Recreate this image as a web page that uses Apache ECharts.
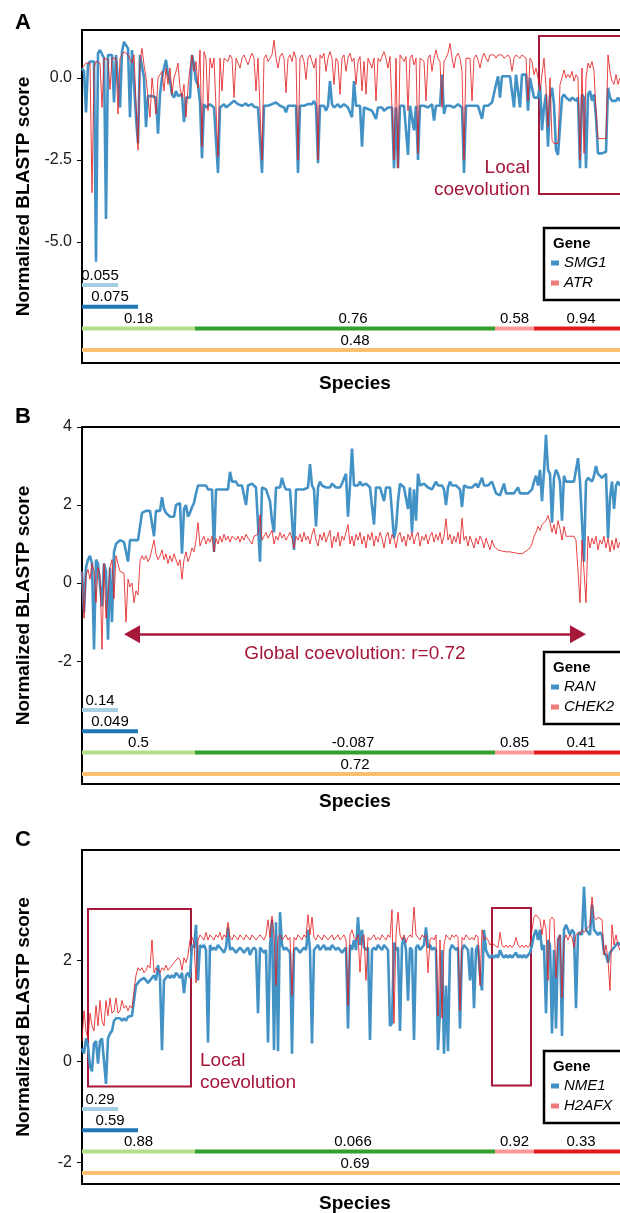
<!DOCTYPE html>
<html>
<head>
<meta charset="utf-8">
<title>Local and global coevolution of BLASTP scores</title>
<script src="https://cdn.jsdelivr.net/npm/echarts@6.0.0/dist/echarts.min.js"></script>
<style>
html,body{margin:0;padding:0;background:#fff;}
#chart{width:620px;height:1213px;}
</style>
</head>
<body>
<div id="chart"></div>
<script>
// ---------------- data ----------------
const STEP = 2;            // species index spacing between plotted points
const SPECIES_MAX = 546;   // last species index on the x axis

// Panel A
const smg1 = [
 0.3, 0.2, -1.05, 0.4, 0.5, 0.55, 0.5, -5.6, 0.75, 0.85,
 0.8, 0.6, -4.3, 0.7, 0.75, 0.7, -0.75, 0.7, 0.75, -0.9,
 0.8, 1.1, 1.05, 0.9, -1.2, 0.85, 0.8, -1.2, -2.0, 0.7,
 0.75, 0.0, -1.5, -0.55, -0.6, -0.55, -0.6, -0.6, -1.7, -0.5,
 0.0, 0.3, 0.55, 0.1, -0.1, -0.5, -0.6, -0.4, -0.55, -0.6,
 -0.5, -1.35, -0.6, -0.55, -0.6, 0.7, 0.4, -0.1, -0.2, -0.75,
 -2.45, -0.8, -0.9, -0.85, -0.8, -0.85, -0.9, -0.85, -2.9, -0.9,
 -0.85, -0.8, -0.9, -0.85, -0.8, -0.75, -0.7, -0.72, -0.8, -0.75,
 -0.85, -0.8, -0.78, -0.85, -0.82, -0.8, -0.88, -0.85, -0.9, -0.85,
 -2.9, -0.85, -0.8, -0.85, -0.9, -0.8, -0.85, -0.75, -0.8, -0.85,
 -0.82, -0.9, -1.05, -0.85, -0.9, -0.85, -0.9, -0.85, -2.9, -0.85,
 -0.8, -0.85, -0.9, -0.8, -0.85, -0.8, -0.7, -0.85, -2.6, -0.85,
 -0.9, -0.85, -1.0, -0.85, -0.1, -0.8, -0.9, -0.85, -0.8, -0.9,
 -0.85, -0.8, -0.85, -0.9, -0.85, -1.2, -0.1, -0.85, -0.9, -0.85,
 -2.1, -0.9, -0.85, -0.95, -0.9, -1.0, -0.95, -1.25, -0.9, -0.95,
 -0.9, -1.0, -0.95, -0.9, -0.95, -0.9, -2.75, -0.9, -2.75, -0.85,
 -0.8, -0.85, -0.8, -2.35, -0.85, -0.8, -1.6, -0.85, -2.5, -0.85,
 -0.8, -0.85, -0.8, -0.9, -0.85, -0.8, -1.3, -0.85, -0.8, -0.85,
 0.1, -1.1, -0.85, -0.8, -0.85, -0.8, -0.9, -0.85, -0.8, -0.85,
 -0.9, -2.9, -0.85, -0.8, -0.85, -0.9, -0.85, -0.8, -0.85, -0.9,
 -1.25, -0.85, -0.8, -0.85, -0.8, -0.75, -0.75, -0.2, 0.05, -0.6,
 0.05, 0.1, 0.05, 0.1, 0.05, 0.0, -0.9, 0.1, 0.05, -0.9,
 0.1, 0.05, 0.1, -1.0, 0.0, -0.3, -0.6, -0.55, -0.6, -0.2,
 -1.6, -0.9, -0.5, -2.1, -0.6, -0.3, -0.8, -2.2, -2.35, -2.3,
 -0.6, -0.5, -0.6, -0.55, -0.7, -0.6, -0.55, -0.7, -0.6, -2.75,
 -0.5, -0.6, -2.75, -0.5, -0.4, -0.7, -0.5, -1.2, -2.3, -2.35,
 -2.3, -2.35, -2.25, -0.3, -0.6, -0.7, -0.65, -0.7, -0.6, -0.7,
 -0.65
];
const atr = [
 0.3, 0.35, 0.45, 0.5, 0.45, -3.5, 0.3, 0.5, 0.55, 0.45,
 -0.9, 0.6, 0.65, 0.55, -0.35, 0.6, 0.65, 0.6, -1.1, 0.6,
 0.65, 0.8, 0.75, 0.7, 0.72, 0.45, 0.7, 0.65, -2.2, 0.5,
 0.9, 0.4, 0.0, 0.0, -1.2, 0.0, 0.05, -1.1, 0.0, -0.05,
 0.2, -0.4, 0.3, -0.2, 0.3, -0.5, 0.0, 0.2, 0.45, -0.3,
 -0.6, -0.2, -1.2, -0.3, 0.3, 0.7, 0.2, 0.5, -0.3, 0.85,
 -2.1, 0.8, 0.6, -1.0, 0.6, 0.3, 0.6, 0.65, -2.4, 0.6,
 -0.4, 0.6, 0.65, 0.5, 0.7, 0.6, -0.6, 0.6, 0.65, 0.3,
 0.6, 0.7, 0.65, 0.4, 0.6, 0.75, 0.6, -0.4, 0.6, 0.55,
 -2.5, 0.6, 0.7, 0.5, 0.6, 0.7, 1.15, 0.6, 0.3, 0.65,
 0.75, 0.6, -0.45, 0.6, 0.7, 0.5, 0.8, 0.6, -2.5, 0.6,
 0.7, 0.5, -0.05, 0.6, 0.7, 0.65, 0.3, 0.6, -2.5, 0.7,
 0.6, 0.75, 0.2, 0.6, 0.8, 0.6, -0.2, 0.6, 0.5, -0.5,
 0.6, 0.7, 0.2, 0.6, 0.75, 0.5, 0.6, -0.2, 0.5, 0.65,
 -0.4, 0.5, -0.5, 0.6, 0.65, 0.3, 0.6, -0.7, 0.6, 0.5,
 0.65, 0.8, 0.6, 0.3, 0.65, 0.7, -2.5, 0.6, -2.75, 0.7,
 0.6, 0.5, 0.65, -1.0, 0.6, 0.7, 0.4, 0.6, -2.3, 0.6,
 0.65, 0.5, -0.7, 0.6, 0.7, 0.2, 0.6, 0.85, 0.6, 0.5,
 -0.9, 0.5, 0.6, 0.75, 1.05, 0.6, 0.3, 0.65, 0.75, 0.6,
 0.2, -2.5, 0.6, 0.65, 0.6, -0.7, 0.6, 0.7, 0.55, 0.3,
 0.6, 0.75, 0.6, 0.5, 0.7, 0.65, 0.7, 0.6, 0.7, 0.65,
 0.7, 0.6, 0.65, 0.7, 0.6, 0.2, 0.6, 0.7, 0.65, 0.6,
 0.7, 0.65, 0.6, -0.7, 0.6, 0.5, 0.1, 0.3, 0.0, -0.4,
 0.1, 0.6, -0.3, -1.5, 0.0, -1.9, -2.0, -1.95, -2.0, -0.2,
 0.0, 0.24, 0.0, 0.1, 0.0, 0.2, -0.1, 0.1, 0.0, -2.5,
 0.3, -2.3, 0.0, 0.45, 0.3, 0.5, 0.2, -1.0, -1.85, -1.9,
 -1.85, -1.9, -1.85, 0.7, 0.2, -0.1, -0.2, 0.1, -0.2, 0.0,
 0.0
];

// Panel B
const ran = [
 0.3, -0.75, 0.4, 0.6, 0.7, 0.5, -1.7, 0.6, 0.5, 0.45,
 -0.6, 0.5, 0.3, -1.45, 0.4, -1.0, 0.8, 1.0, 1.05, 1.1,
 1.1, 1.05, 1.1, 0.55, 1.1, 1.05, 1.1, 1.15, 1.1, 1.15,
 1.8, 1.85, 1.85, 1.9, 1.85, 1.9, 1.2, 1.85, 1.9, 1.85,
 2.2, 1.9, 1.8, 1.75, 1.7, 1.65, 1.7, 2.0, 1.95, 2.05,
 0.75, 1.9, 2.0, 1.7, 1.8, 1.95, 2.05, 2.3, 2.5, 2.45,
 2.5, 2.45, 2.5, 2.4, 2.45, 2.4, 0.8, 2.4, 2.45, 2.4,
 2.45, 2.4, 2.45, 2.4, 2.85, 2.6, 2.55, 2.6, 2.5, 2.55,
 2.5, 2.45, 2.0, 2.5, 2.45, 2.55, 2.6, 2.45, 2.4, 0.55,
 2.45, 2.5, 2.4, 2.45, 2.1, 1.6, 1.3, 2.45, 2.5, 2.45,
 2.7, 2.5, 2.4, 2.45, 2.4, 2.45, 0.85, 2.4, 2.45, 2.4,
 2.35, 2.4, 2.35, 2.45, 3.05, 2.5, 2.4, 1.45, 2.45, 2.6,
 2.5, 2.55, 2.45, 2.5, 2.45, 2.55, 2.5, 2.45, 2.5, 2.45,
 2.55, 2.5, 2.8, 1.7, 2.5, 3.45, 2.5, 2.45, 2.5, 2.6,
 2.5, 2.45, 2.55, 2.5, 2.45, 2.5, 1.5, 2.45, 2.5, 2.45,
 2.5, 2.1, 2.45, 2.5, 2.45, 2.4, 1.15, 1.4, 2.1, 2.55,
 2.6, 2.45, 2.4, 1.9, 2.45, 1.3, 2.4, 1.6, 2.8, 2.5,
 2.45, 2.55, 2.5, 2.45, 2.5, 2.4, 2.45, 2.6, 2.5, 2.45,
 2.5, 2.4, 2.0, 2.45, 2.6, 2.5, 2.45, 2.5, 2.45, 2.4,
 1.95, 2.5, 2.55, 2.45, 2.5, 2.45, 2.5, 2.55, 2.45, 2.5,
 2.7, 2.5, 2.45, 2.5, 2.55, 2.6, 2.45, 2.3, 2.3, 2.25,
 2.3, 2.55, 2.3, 2.25, 2.3, 2.25, 2.3, 2.25, 2.45, 2.3,
 2.25, 2.3, 2.25, 2.3, 2.35, 2.4, 2.6, 2.75, 2.5, 2.9,
 2.1, 2.85, 3.8, 2.9, 2.8, 1.55, 2.7, 2.9, 2.8, 2.6,
 1.6, 2.75, 2.6, 2.65, 2.6, 2.55, 2.6, 2.65, 3.2, 2.6,
 2.55, 0.55, 2.6, 2.7, 2.65, 2.6, 2.75, 3.0, 2.8, 2.75,
 2.7, 2.75, 2.8, 1.15, 2.2, 2.6, 1.9, 2.5, 2.6, 2.5,
 2.55
];
const chek2 = [
 0.3, -0.9, 0.2, 0.35, 0.1, 0.5, 0.3, -0.5, 0.4, 0.2,
 -1.7, 0.5, -0.9, -0.3, 0.4, 0.6, -0.4, 0.7, 0.5, 0.3,
 0.35, 0.25, -1.0, 0.1, -0.1, 0.0, -0.5, -0.2, -0.3, 0.55,
 0.7, 0.6, 0.7, 0.55, 0.65, 0.6, 1.1, 0.75, 0.6, 0.7,
 0.85, 0.6, 0.75, 0.5, 0.7, 0.55, 0.75, 0.6, 0.45, 0.6,
 0.1, 0.6, 0.8, 0.55, 0.7, 0.9, 0.8, 1.1, 1.55, 0.95,
 1.1, 1.2, 1.0, 1.15, 1.05, 1.2, 0.8, 1.15, 1.0, 1.2,
 1.05, 1.25, 1.1, 1.2, 1.05, 1.2, 1.25, 1.1, 1.2, 1.05,
 1.2, 1.1, 1.25, 1.15, 1.2, 1.0, 1.2, 1.15, 1.25, 1.75,
 1.1, 1.2, 1.3, 1.15, 1.2, 1.35, 1.0, 1.2, 1.1, 1.3,
 1.15, 1.25, 1.1, 1.2, 1.3, 1.15, 0.9, 1.2, 1.1, 1.25,
 1.05, 1.3, 1.1, 1.2, 1.0, 1.25, 1.4, 1.1, 0.95, 1.25,
 1.1, 1.3, 1.05, 1.2, 1.35, 0.9, 1.2, 1.05, 1.3, 0.95,
 1.2, 1.1, 1.3, 1.5, 1.0, 1.2, 0.95, 1.25, 1.1, 1.3,
 1.0, 1.2, 0.9, 1.25, 1.1, 1.3, 0.95, 1.2, 1.05, 1.3,
 1.15, 0.9, 1.2, 1.3, 1.0, 1.25, 1.15, 0.9, 1.2, 1.3,
 1.05, 1.2, 0.95, 1.25, 1.1, 1.3, 1.0, 1.2, 1.3, 0.95,
 1.2, 1.1, 1.25, 1.0, 1.2, 1.3, 1.05, 1.25, 1.1, 1.3,
 1.0, 1.2, 1.65, 1.1, 1.25, 1.0, 1.2, 1.05, 1.3, 1.0,
 1.66, 1.1, 1.2, 0.95, 1.2, 1.05, 0.9, 1.15, 1.0, 1.2,
 1.1, 0.9, 1.15, 1.0, 0.85, 1.1, 0.95, 0.9, 0.85, 0.8,
 0.82, 0.78, 0.8, 0.85, 0.8, 0.75, 0.78, 0.8, 0.76, 0.78,
 0.75, 0.8, 0.82, 0.85, 0.9, 1.0, 1.2, 1.3, 1.45, 1.35,
 1.5, 1.45, 1.6, 1.73, 1.55, 1.3, 1.5, 1.25, 1.6, 1.4,
 1.1, 1.45, 1.2, 1.15, 1.2, 1.15, 1.2, 1.1, 1.15, -0.5,
 1.1, 1.15, -0.5, 1.2, 0.9, 1.15, 1.0, 1.2, 0.85, 1.1,
 1.0, 1.2, 0.9, 1.15, 0.8, 1.1, 0.85, 1.15, 0.9, 1.05,
 1.0
];

// Panel C
const nme1 = [
 0.25, 0.15, 0.45, 0.3, -0.1, -0.2, 0.35, 0.4, -0.05, 0.4,
 0.45, 0.42, -0.45, 0.45, 0.55, 0.6, 0.8, 0.85, 0.82, 0.85,
 0.8, 0.85, 0.8, 0.88, 0.85, 0.9, 1.2, 1.5, 1.55, 1.6,
 1.6, 1.65, 1.6, 1.55, 1.6, 1.65, 1.7, 1.6, 1.9, 1.65,
 0.22, 1.6, 1.65, 1.7, 1.65, 1.7, 1.65, 1.75, 1.7, 1.65,
 1.75, 1.35, 1.7, 1.75, 1.65, 2.3, 2.25, 2.7, 1.6, 2.3,
 2.25, 2.3, 2.2, 0.37, 2.3, 2.2, 2.25, 2.2, 2.3, 2.25,
 2.2, 2.15, 2.25, 2.65, 2.2, 2.25, 2.2, 2.15, 2.2, 2.25,
 2.2, 2.15, 2.2, 2.25, 2.1, 2.2, 2.25, 2.2, 0.95, 2.25,
 2.2, 2.15, 2.2, 0.37, 2.25, 2.8, 0.22, 2.75, 0.2, 2.95,
 2.3, 2.2, 2.25, 2.2, 2.15, 0.15, 2.2, 2.25, 2.2, 2.15,
 2.2, 2.25, 2.2, 2.6, 2.2, 0.35, 2.2, 2.25, 2.3, 2.2,
 2.25, 2.3, 2.2, 2.25, 2.2, 2.3, 2.25, 2.2, 2.25, 2.2,
 2.15, 2.2, 2.25, 0.65, 2.3, 2.2, 2.4, 2.2, 2.85, 2.3,
 2.6, 2.25, 2.2, 2.25, 0.42, 2.2, 2.25, 2.2, 2.3, 2.25,
 2.2, 2.3, 2.25, 2.2, 0.7, 0.75, 2.35, 2.2, 2.25, 0.6,
 2.3, 2.45, 2.2, 1.2, 2.25, 2.2, 0.42, 2.25, 2.3, 2.2,
 2.25, 2.3, 2.65, 2.25, 2.3, 2.2, 2.25, 2.2, 0.22, 1.0,
 2.2, 0.15, 1.5, 0.2, 2.2, 2.3, 2.25, 2.2, 2.25, 0.65,
 2.2, 2.3, 2.25, 2.2, 1.6, 2.25, 1.05, 2.2, 2.3, 1.7,
 1.4, 2.6, 2.2, 2.1, 2.05, 2.1, 2.05, 2.1, 2.05, 2.2,
 2.1, 2.05, 2.1, 2.05, 2.1, 2.05, 2.1, 2.15, 2.05, 2.1,
 2.05, 2.1, 2.05, 2.1, 2.15, 2.3, 2.5, 2.6, 2.4, 2.6,
 2.2, 2.3, 0.95, 2.4, 2.3, 0.55, 2.2, 0.65, 2.4, 2.5,
 0.5, 2.6, 2.7, 2.6, 2.5, 2.6, 2.55, 1.05, 2.5, 2.55,
 2.5, 3.45, 2.6, 2.55, 2.5, 3.1, 2.6, 2.55, 2.5, 2.55,
 2.5, 2.15, 2.1, 1.95, 2.15, 2.2, 2.25, 2.3, 2.35, 2.3,
 2.35
];
const h2afx = [
 0.4, 1.0, 0.6, 0.45, 0.95, 0.7, 0.6, 1.1, 0.7, 1.2,
 0.8, 0.7, 1.2, 0.9, 1.25, 0.95, 1.0, 1.25, 0.95, 1.0,
 1.2, 1.05, 1.1, 1.0, 1.1, 1.05, 1.4, 1.7, 1.85, 1.8,
 1.85, 1.75, 1.8, 1.9, 1.85, 2.4, 1.75, 1.85, 1.8, 1.75,
 1.85, 1.8, 1.9, 1.8, 1.85, 1.9, 1.95, 2.0, 2.05, 2.0,
 1.8, 2.05, 1.95, 2.1, 2.4, 2.45, 2.35, 1.55, 2.4, 2.5,
 2.45, 2.4, 2.55, 2.4, 2.5, 2.45, 2.4, 2.5, 2.45, 2.55,
 2.4, 2.5, 2.45, 2.75, 2.45, 2.4, 2.5, 2.45, 2.4, 2.5,
 2.45, 2.4, 2.5, 2.45, 2.4, 2.5, 2.45, 2.4, 2.45, 2.5,
 2.45, 2.4, 2.5, 2.8, 2.45, 2.87, 2.5, 1.5, 2.45, 2.5,
 2.4, 2.45, 2.5, 2.4, 2.45, 1.3, 2.45, 2.4, 2.5, 2.45,
 2.4, 2.5, 2.45, 2.9, 2.5, 2.85, 2.45, 2.4, 2.5, 2.45,
 2.4, 2.5, 2.45, 2.4, 2.45, 2.5, 2.4, 2.45, 2.5, 2.4,
 2.45, 2.5, 2.4, 1.1, 2.5, 2.6, 2.45, 2.4, 2.5, 1.76,
 2.45, 2.5, 1.6, 2.45, 2.4, 2.45, 2.5, 2.4, 2.45, 2.4,
 2.5, 2.45, 2.4, 2.5, 2.45, 3.0, 0.75, 2.5, 2.95, 2.5,
 2.4, 2.5, 2.35, 2.45, 2.5, 2.45, 3.05, 2.5, 2.45, 2.4,
 2.5, 2.45, 2.5, 1.75, 2.4, 2.45, 2.4, 2.5, 0.9, 2.4,
 0.85, 2.3, 2.5, 2.45, 2.4, 2.5, 2.45, 2.5, 2.45, 1.0,
 2.45, 2.4, 2.5, 2.45, 2.4, 2.45, 2.4, 2.5, 2.45, 1.5,
 2.6, 2.4, 2.45, 2.4, 2.3, 2.35, 2.3, 2.3, 2.25, 2.55,
 2.3, 2.25, 2.3, 2.25, 2.3, 2.25, 2.3, 2.45, 2.3, 2.25,
 2.3, 2.25, 2.3, 2.25, 2.3, 2.6, 2.85, 2.9, 2.85, 2.8,
 2.5, 2.8, 2.6, 1.6, 2.8, 2.85, 2.8, 1.65, 2.4, 2.5,
 1.25, 2.4, 2.5, 2.4, 2.5, 2.45, 2.25, 2.5, 2.55, 2.5,
 2.6, 2.55, 2.6, 2.65, 2.7, 3.25, 2.85, 2.8, 2.85, 2.85,
 2.8, 2.1, 2.3, 2.0, 1.4, 2.7, 2.3, 2.5, 2.3, 2.2,
 2.25
];

// taxonomic-group spans (species index) of the correlation bars
const groupStart = [0, 0, 0, 113, 413, 452, 0];
const groupEnd   = [36, 56, 113, 413, 452, 546, 546];
const groupRow   = [0, 1, 2, 2, 2, 2, 3];

// correlation per group
const corrA = [0.055, 0.075, 0.18, 0.76, 0.58, 0.94, 0.48];
const corrB = [0.14, 0.049, 0.5, -0.087, 0.85, 0.41, 0.72];
const corrC = [0.29, 0.59, 0.88, 0.066, 0.92, 0.33, 0.69];

// y tick labels
const ticksA = [-5, -2.5, 0];
const ticksB = [-2, 0, 2, 4];
const ticksC = [-2, 0, 2];

// annotations (species index / score)
const localBoxesA = [[457, 1.28, 546, -3.54]];
const localBoxesC = [[6, 3.01, 109, -0.50], [410, 3.03, 449, -0.48]];
const globalArrowB = [50, 496, -1.31];
const globalR = 0.72;

// ---------------- style / layout ----------------
const FONT = '"Liberation Sans", Arial, Helvetica, sans-serif';
const BLUE = '#4292c6';
const RED = 'rgba(228,26,28,0.82)';
const RED_KEY = '#ef7b7b';
const ANN = '#a6173a';
const GROUP_COLORS = ['#a6cee3', '#1f78b4', '#b2df8a', '#33a02c', '#fb9a99', '#e31a1c', '#fdbf6f'];

const panels = [
  {letter: 'A', top: 30, height: 333, yMin: -8.69, yMax: 1.46, ticks: ticksA, digits: 1,
   blue: {name: 'SMG1', data: smg1}, red: {name: 'ATR', data: atr}, corr: corrA,
   barTop: 274.2, barHeight: 86.7, legendTop: 228, letterY: 23, speciesGap: 11,
   boxes: localBoxesA, boxLabelSide: 'left'},
  {letter: 'B', top: 427, height: 357, yMin: -5.15, yMax: 4, ticks: ticksB, digits: 0,
   blue: {name: 'RAN', data: ran}, red: {name: 'CHEK2', data: chek2}, corr: corrB,
   barTop: 699.3, barHeight: 85.3, legendTop: 652, letterY: 417, speciesGap: 8,
   arrow: globalArrowB},
  {letter: 'C', top: 850, height: 334, yMin: -2.43, yMax: 4.18, ticks: ticksC, digits: 0,
   blue: {name: 'NME1', data: nme1}, red: {name: 'H2AFX', data: h2afx}, corr: corrC,
   barTop: 1098.3, barHeight: 85.3, legendTop: 1051, letterY: 840, speciesGap: 10,
   boxes: localBoxesC, boxLabelSide: 'right'}
];

const GRID_LEFT = 82;
const GRID_WIDTH = 546;

function lineData(arr) { return arr.map((v, i) => [i * STEP, v]); }

const grid = [], xAxis = [], yAxis = [], series = [], legend = [], graphic = [];

panels.forEach((p, k) => {
  const gMain = 2 * k, gBar = 2 * k + 1;
  grid.push({left: GRID_LEFT, top: p.top, width: GRID_WIDTH, height: p.height, outerBoundsMode: 'none',
             containLabel: false, show: true, borderColor: '#000', borderWidth: 2, backgroundColor: 'rgba(0,0,0,0)'});
  grid.push({left: GRID_LEFT, top: p.barTop, width: GRID_WIDTH, height: p.barHeight, outerBoundsMode: 'none',
             containLabel: false, show: false});

  xAxis.push({gridIndex: gMain, type: 'value', min: 0, max: SPECIES_MAX,
    axisLine: {show: false}, axisTick: {show: false}, axisLabel: {show: false}, splitLine: {show: false},
    name: 'Species', nameLocation: 'middle', nameGap: p.speciesGap,
    nameTextStyle: {fontFamily: FONT, fontSize: 19, fontWeight: 'bold', color: '#000'}});
  xAxis.push({gridIndex: gBar, type: 'value', min: 0, max: SPECIES_MAX, show: false});

  yAxis.push({gridIndex: gMain, type: 'value', min: p.yMin, max: p.yMax,
    axisLine: {show: false},
    axisTick: {show: true, length: 5, customValues: p.ticks, lineStyle: {color: '#000', width: 1}},
    axisLabel: {customValues: p.ticks, margin: 10, fontFamily: FONT, fontSize: 16, color: '#1a1a1a',
                formatter: v => Number(v).toFixed(p.digits)},
    splitLine: {show: false},
    name: 'Normalized BLASTP score', nameLocation: 'middle', nameRotate: 90, nameGap: 49,
    nameTextStyle: {fontFamily: FONT, fontSize: 19, fontWeight: 'bold', color: '#000'}});
  yAxis.push({gridIndex: gBar, type: 'category', data: ['r0', 'r1', 'r2', 'r3'], inverse: true, show: false});

  const blueSeries = {type: 'line', name: p.blue.name, xAxisIndex: gMain, yAxisIndex: gMain,
    data: lineData(p.blue.data), symbol: 'none', showSymbol: false, silent: true, z: 2,
    lineStyle: {color: BLUE, width: 2.6}, itemStyle: {color: BLUE}};
  const redSeries = {type: 'line', name: p.red.name, xAxisIndex: gMain, yAxisIndex: gMain,
    data: lineData(p.red.data), symbol: 'none', showSymbol: false, silent: true, z: 3,
    lineStyle: {color: RED, width: 1}, itemStyle: {color: RED}};

  if (p.boxes) {
    redSeries.markArea = {
      silent: true,
      itemStyle: {color: 'rgba(0,0,0,0)', borderColor: ANN, borderWidth: 2},
      data: p.boxes.map((b, j) => {
        const first = {xAxis: b[0], yAxis: b[1]};
        if (j === 0) {
          first.label = p.boxLabelSide === 'left'
            ? {show: true, formatter: 'Local\ncoevolution', position: [-8, '100%'], offset: [0, 6],
               align: 'right', verticalAlign: 'bottom', color: ANN, fontSize: 19, lineHeight: 22, fontFamily: FONT}
            : {show: true, formatter: 'Local\ncoevolution', position: ['100%', '100%'], offset: [8, 6],
               align: 'left', verticalAlign: 'bottom', color: ANN, fontSize: 19, lineHeight: 22, fontFamily: FONT};
        } else {
          first.label = {show: false};
        }
        return [first, {xAxis: b[2], yAxis: b[3]}];
      })
    };
  }
  if (p.arrow) {
    redSeries.markLine = {
      silent: true, symbol: ['triangle', 'triangle'], symbolSize: [18, 16],
      lineStyle: {color: ANN, width: 2.5, type: 'solid'},
      label: {show: true, formatter: 'Global coevolution: r=' + globalR, position: 'insideMiddleBottom',
              distance: 10, color: ANN, fontSize: 19, fontFamily: FONT},
      data: [[{coord: [p.arrow[0], p.arrow[2]]}, {coord: [p.arrow[1], p.arrow[2]]}]]
    };
  }
  series.push(blueSeries, redSeries);

  groupStart.forEach((s, j) => {
    const data = [0, 1, 2, 3].map(r => (r === groupRow[j] ? groupEnd[j] - s : '-'));
    series.push({type: 'bar', xAxisIndex: gBar, yAxisIndex: gBar, stack: 'rows' + k, barWidth: 4,
      data, silent: true, itemStyle: {color: GROUP_COLORS[j]},
      label: {show: true, position: 'top', distance: 0, offset: j === 3 ? [8, 0] : [0, 0],
              formatter: () => String(p.corr[j]), fontFamily: FONT, fontSize: 15, color: '#000'}});
  });

  legend.push({data: [{name: p.blue.name, itemStyle: {color: BLUE}}, {name: p.red.name, itemStyle: {color: RED_KEY}}],
    orient: 'vertical', left: 551, top: p.legendTop + 27, itemWidth: 8, itemHeight: 5, itemGap: 4,
    icon: 'rect', selectedMode: false, padding: 0, z: 20,
    textStyle: {fontFamily: FONT, fontSize: 15, fontStyle: 'italic', color: '#000', lineHeight: 16}});

  graphic.push(
    {type: 'rect', z: 15, shape: {x: 544, y: p.legendTop, width: 100, height: 72},
     style: {fill: '#fff', stroke: '#000', lineWidth: 2.5}},
    {type: 'text', z: 16, x: 553, y: p.legendTop + 16,
     style: {text: 'Gene', fontFamily: FONT, fontSize: 15, fontWeight: 'bold', fill: '#000', verticalAlign: 'middle'}},
    {type: 'text', z: 16, x: 15, y: p.letterY,
     style: {text: p.letter, fontFamily: FONT, fontSize: 22, fontWeight: 'bold', fill: '#000', verticalAlign: 'middle'}}
  );
});

const chart = echarts.init(document.getElementById('chart'), null, {renderer: 'canvas'});
chart.setOption({
  animation: false,
  backgroundColor: '#fff',
  textStyle: {fontFamily: FONT},
  grid, xAxis, yAxis, series, legend,
  graphic: {elements: graphic}
});
</script>
</body>
</html>
